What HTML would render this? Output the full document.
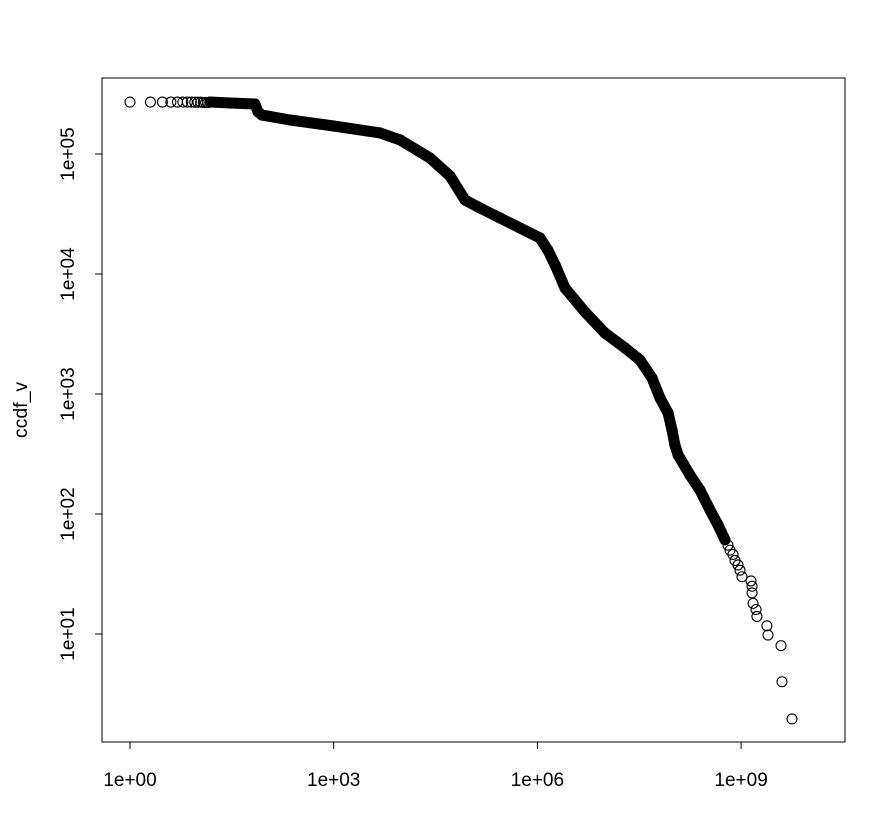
<!DOCTYPE html>
<html><head><meta charset="utf-8"><style>
html,body{margin:0;padding:0;background:#fff;}
svg{display:block;font-family:"Liberation Sans",sans-serif;}
</style></head><body>
<svg id="chart" width="884" height="838" viewBox="0 0 884 838" xmlns="http://www.w3.org/2000/svg">
<rect x="102" y="78" width="743" height="664" fill="none" stroke="#000" stroke-width="1"/>
<text transform="translate(27,410) rotate(-90)" text-anchor="middle" font-size="19.5">ccdf_v</text>
<g id="axes"></g>
<g id="marks"></g>
</svg>
<script>
const xTicks = [1, 1e3, 1e6, 1e9];
const xTickLabels = ["1e+00", "1e+03", "1e+06", "1e+09"];
const yTicks = [10, 100, 1000, 1e4, 1e5];
const yTickLabels = ["1e+01", "1e+02", "1e+03", "1e+04", "1e+05"];
// sparse head points (integers on x)
const headX = [1,2,3,4,5,6,7,8,9,10,11,12,13,14];
const headY = [271000,271000,271000,271000,271000,271000,271000,271000,270000,270000,270000,269000,269000,268000];
// dense body of the CCDF
const bodyX = [15,30,69,77,88,227,1000,4800,9500,26200,51600,85900,142600,281000,554000,1.09e6,1.43e6,1.82e6,2.55e6,5.02e6,9.9e6,1.95e7,3.24e7,4.87e7,6.4e7,8.4e7,9.6e7,1.06e8,1.18e8,1.77e8,2.48e8,3.48e8,4.57e8,5.8e8];
const bodyY = [271000,266000,261000,224000,211000,192000,171000,150000,131000,92600,65600,41400,35500,29300,24200,20000,15800,11900,7640,4820,3220,2420,1920,1360,927,695,501,376,310,211,158,108,81,61];
// sparse tail points
const tailX = [6.41e8,6.87e8,7.6e8,8.13e8,9e8,9.64e8,1.03e9,1.4e9,1.45e9,1.45e9,1.5e9,1.66e9,1.71e9,2.4e9,2.49e9,3.87e9,4e9,5.62e9];
const tailY = [55,50,46,41,37.6,34,30,27.7,25,22,18,16,14,11.7,9.8,8,4,1.96];

const NS = "http://www.w3.org/2000/svg";
const xs = v => 130 + Math.log10(v) * 67.9;
const ys = v => 154 - (Math.log10(v) - 5) * 120;
const axes = document.getElementById("axes");
const marks = document.getElementById("marks");
function mk(tag, attrs, parent){const e=document.createElementNS(NS,tag);for(const k in attrs)e.setAttribute(k,attrs[k]);parent.appendChild(e);return e;}

xTicks.forEach((t,i)=>{
  const l=mk("line",{x1:xs(t),x2:xs(t),y1:742,y2:749,stroke:"#000"},axes);
  
  
  const tx=mk("text",{x:xs(t),y:786,"text-anchor":"middle","font-size":"19"},axes);
  tx.textContent=xTickLabels[i];
  
  
});
yTicks.forEach((t,i)=>{
  const l=mk("line",{x1:95,x2:102,y1:ys(t),y2:ys(t),stroke:"#000"},axes);
  
  
  const tx=mk("text",{transform:`translate(74,${ys(t)}) rotate(-90)`,"text-anchor":"middle","font-size":"19"},axes);
  tx.textContent=yTickLabels[i];
  
  
});

// dense band
let d="";
bodyX.forEach((x,i)=>{d+=(i?"L":"M")+xs(x).toFixed(1)+","+ys(bodyY[i]).toFixed(1);});
const band=mk("path",{d:d,fill:"none",stroke:"#000","stroke-width":"11","stroke-linejoin":"round","stroke-linecap":"round"},marks);



function pt(x,y){
  const c=mk("circle",{cx:xs(x),cy:ys(y),r:5,fill:"none",stroke:"#000","stroke-width":"1.1"},marks);
  
  
}
headX.forEach((x,i)=>pt(x,headY[i]));
bodyX.forEach((x,i)=>pt(x,bodyY[i]));
tailX.forEach((x,i)=>pt(x,tailY[i]));
</script>
</body></html>
